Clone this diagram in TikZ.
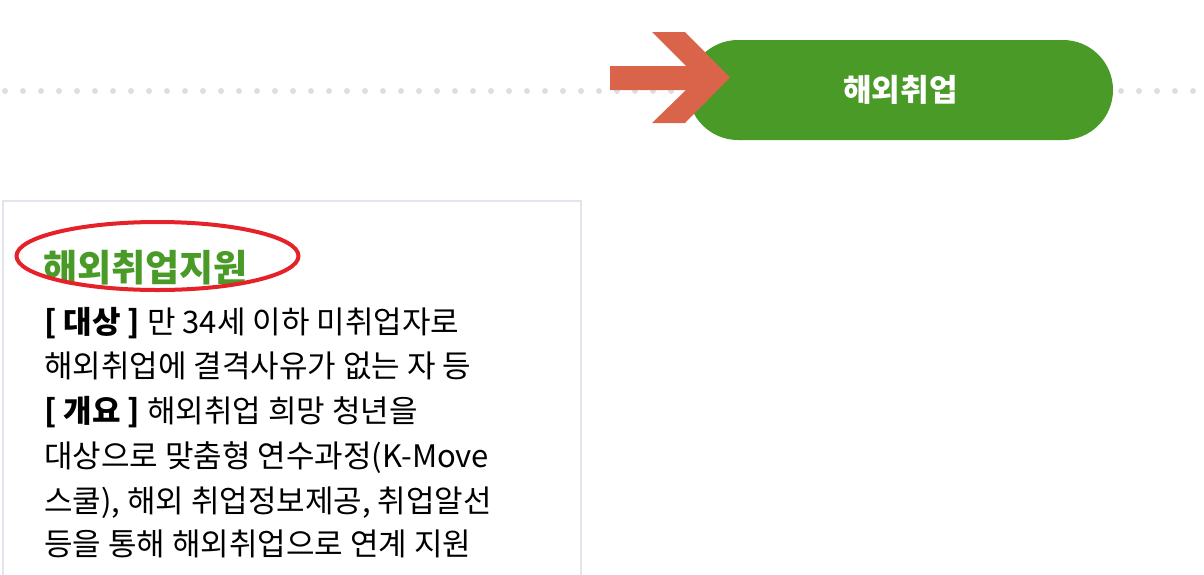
\documentclass[tikz,border=0pt]{standalone}
\usepackage{fontspec}
\setmainfont{Noto Sans CJK KR}
\usetikzlibrary{shapes.misc}
\definecolor{pillgreen}{HTML}{499A27}
\definecolor{arroworange}{HTML}{D9644A}
\definecolor{ringred}{HTML}{E52129}
\definecolor{dotgray}{HTML}{DEDEDE}
\definecolor{boxline}{HTML}{E2E5EE}
\tikzset{
  dotmark/.style={fill=dotgray},
  pillbox/.style={fill=pillgreen, rounded rectangle, minimum width=425pt, minimum height=100pt, inner sep=0pt, text=white, font=\fontsize{31}{34}\selectfont\bfseries},
  body/.style={anchor=base west, inner sep=0pt, font=\fontsize{31}{34}\selectfont},
  titletext/.style={anchor=base west, inner sep=0pt, text=pillgreen, font=\fontsize{37}{40}\selectfont\bfseries},
}
\begin{document}
\begin{tikzpicture}[x=1pt,y=-1pt]
\useasboundingbox (0,0) rectangle (1204,574);
% dotted guide line
\foreach \i in {0,...,66} \fill[dotmark] (5+18*\i,91) circle (3);
% pill
\node[pillbox] (pill) at (900.5,90) {해외취업};
% arrow
\fill[arroworange] (610,66) -- (686,66) -- (652,32) -- (685,32) -- (730,77.5) -- (685,123) -- (652,123) -- (686,90) -- (610,90) -- cycle;
% box
\draw[boxline, line width=2pt] (3,201) rectangle (581,600);
% title
\node[titletext] (title) at (43,281) {해외취업지원};
\draw[ringred, line width=4pt] (157.5,256) ellipse (141 and 34);
% body
\node[body] (l1) at (44,333) {\textbf{[ 대상 ]} 만 34세 이하 미취업자로};
\node[body] (l2) at (44,377) {해외취업에 결격사유가 없는 자 등};
\node[body] (l3) at (44,422) {\textbf{[ 개요 ]} 해외취업 희망 청년을};
\node[body] (l4) at (44,467) {대상으로 맞춤형 연수과정(K-Move};
\node[body] (l5) at (44,512) {스쿨), 해외 취업정보제공, 취업알선};
\node[body] (l6) at (44,555) {등을 통해 해외취업으로 연계 지원};
\end{tikzpicture}
\end{document}
